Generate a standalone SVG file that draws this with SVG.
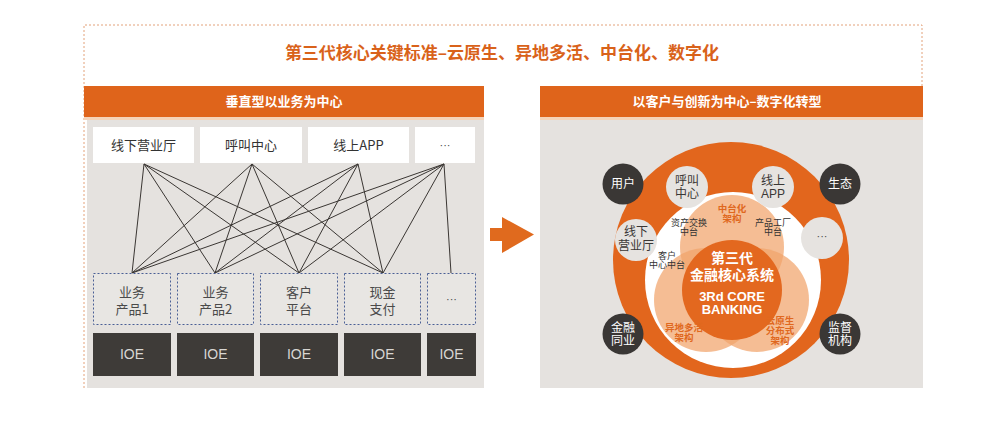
<svg xmlns="http://www.w3.org/2000/svg" width="983" height="429" viewBox="0 0 983 429">
<style>
.cjk{font-family:"Noto Sans CJK SC","Liberation Sans",sans-serif;}
.lat{font-family:"Liberation Sans","Noto Sans CJK SC",sans-serif;}
.hdr{fill:#df641b;}
.hdrtxt{fill:#ffffff;font-size:13px;font-weight:bold;text-anchor:middle;}
.panel{fill:#e5e2df;}
.topbox{fill:#ffffff;}
.toptxt{fill:#333333;font-size:13px;text-anchor:middle;}
.midbox{fill:#e8e6e3;stroke:#4a5f95;stroke-width:1;stroke-dasharray:2 2;}
.midtxt{fill:#4a4a4a;font-size:13px;text-anchor:middle;}
.dots{fill:#4a4a4a;font-size:11px;text-anchor:middle;}
.ioe{fill:#3e3b38;}
.ioetxt{fill:#d8d6d3;font-size:14px;text-anchor:middle;}
.conn line{stroke:#3a3633;stroke-width:1;}
.dark{fill:#3a3735;}
.darktxt{fill:#ffffff;font-size:12px;text-anchor:middle;}
.light{fill:#e6e3e0;}
.lighttxt{fill:#3a3735;font-size:12px;text-anchor:middle;}
.venn{fill:#f1a36b;fill-opacity:0.72;}
.ortxt{fill:#e0681e;font-size:9.5px;font-weight:bold;text-anchor:middle;}
.smtxt{fill:#333333;font-size:9px;text-anchor:middle;}
.core{fill:#ffffff;font-weight:bold;text-anchor:middle;}
</style>
<rect width="983" height="429" fill="#ffffff"/>
<path d="M84,388 V25 H922 V86" fill="none" stroke="#e3a27a" stroke-width="1" stroke-dasharray="2 2"/>
<text class="cjk" x="502" y="59" fill="#d9621a" font-size="17" font-weight="bold" text-anchor="middle">第三代核心关键标准–云原生、异地多活、中台化、数字化</text>

<g id="left-panel">
<rect class="panel" x="87" y="117" width="397" height="271"/>
<rect class="hdr" x="84" y="86" width="400" height="31"/>
<rect x="84" y="117" width="400" height="3" fill="#f5d3b9"/>
<text class="cjk hdrtxt" x="284" y="106">垂直型以业务为中心</text>
</g>

<g id="channel-1"><rect class="topbox" x="93" y="127" width="101" height="36"/><text class="cjk toptxt" x="143.5" y="150">线下营业厅</text></g>
<g id="channel-2"><rect class="topbox" x="200" y="127" width="102" height="36"/><text class="cjk toptxt" x="251" y="150">呼叫中心</text></g>
<g id="channel-3"><rect class="topbox" x="308" y="127" width="101" height="36"/><text class="cjk toptxt" x="358.5" y="150">线上APP</text></g>
<g id="channel-4"><rect class="topbox" x="415" y="127" width="60" height="36"/><text class="lat dots" x="445" y="149">···</text></g>

<g id="connectors" class="conn">
<line x1="144" y1="164" x2="132" y2="273"/><line x1="144" y1="164" x2="215" y2="273"/><line x1="144" y1="164" x2="299" y2="273"/><line x1="144" y1="164" x2="383" y2="273"/>
<line x1="252" y1="164" x2="132" y2="273"/><line x1="252" y1="164" x2="215" y2="273"/><line x1="252" y1="164" x2="299" y2="273"/><line x1="252" y1="164" x2="383" y2="273"/>
<line x1="358" y1="164" x2="132" y2="273"/><line x1="358" y1="164" x2="215" y2="273"/><line x1="358" y1="164" x2="299" y2="273"/><line x1="358" y1="164" x2="383" y2="273"/>
<line x1="444" y1="164" x2="132" y2="273"/><line x1="444" y1="164" x2="215" y2="273"/><line x1="444" y1="164" x2="299" y2="273"/><line x1="444" y1="164" x2="383" y2="273"/>
<line x1="444" y1="164" x2="451" y2="273"/>
</g>

<g id="product-1"><rect class="midbox" x="93.5" y="273.5" width="77" height="51"/><text class="cjk midtxt" x="132" y="297">业务</text><text class="cjk midtxt" x="132" y="314">产品1</text></g>
<g id="product-2"><rect class="midbox" x="177.5" y="273.5" width="76" height="51"/><text class="cjk midtxt" x="215.5" y="297">业务</text><text class="cjk midtxt" x="215.5" y="314">产品2</text></g>
<g id="customer-platform"><rect class="midbox" x="260.5" y="273.5" width="77" height="51"/><text class="cjk midtxt" x="299" y="297">客户</text><text class="cjk midtxt" x="299" y="314">平台</text></g>
<g id="cash-payment"><rect class="midbox" x="344.5" y="273.5" width="76" height="51"/><text class="cjk midtxt" x="382.5" y="297">现金</text><text class="cjk midtxt" x="382.5" y="314">支付</text></g>
<g id="product-more"><rect class="midbox" x="427.5" y="273.5" width="48" height="51"/><text class="lat dots" x="451.5" y="303">···</text></g>

<g id="ioe-1"><rect class="ioe" x="93" y="333" width="78" height="43"/><text class="lat ioetxt" x="132" y="359">IOE</text></g>
<g id="ioe-2"><rect class="ioe" x="177" y="333" width="77" height="43"/><text class="lat ioetxt" x="215.5" y="359">IOE</text></g>
<g id="ioe-3"><rect class="ioe" x="260" y="333" width="78" height="43"/><text class="lat ioetxt" x="299" y="359">IOE</text></g>
<g id="ioe-4"><rect class="ioe" x="344" y="333" width="77" height="43"/><text class="lat ioetxt" x="382.5" y="359">IOE</text></g>
<g id="ioe-5"><rect class="ioe" x="427" y="333" width="49" height="43"/><text class="lat ioetxt" x="451.5" y="359">IOE</text></g>

<g id="arrow"><path d="M490,228 H502 V217 L534,234.5 L502,253 V241 H490 Z" fill="#e06a1e"/></g>

<g id="right-panel">
<rect class="panel" x="540" y="117" width="383" height="271"/>
<rect class="hdr" x="540" y="86" width="383" height="31"/>
<rect x="540" y="117" width="383" height="3" fill="#f5d3b9"/>
<text class="cjk hdrtxt" x="727" y="106">以客户与创新为中心–数字化转型</text>
</g>

<g id="ring">
<circle cx="731" cy="260" r="118" fill="#e2661d"/>
<circle cx="733" cy="280" r="88" fill="#ffffff"/>
</g>
<g id="venn">
<circle class="venn" cx="732" cy="247" r="52"/>
<circle class="venn" cx="706" cy="300" r="52"/>
<circle class="venn" cx="757" cy="300" r="52"/>
<circle cx="732" cy="290" r="50" fill="#e3681f"/>
</g>
<g id="core">
<text class="cjk core" x="732" y="263" font-size="14">第三代</text>
<text class="cjk core" x="732" y="280" font-size="14">金融核心系统</text>
<text class="lat core" x="732" y="301" font-size="13">3Rd CORE</text>
<text class="lat core" x="732" y="314" font-size="13">BANKING</text>
</g>
<g id="middle-platform"><text class="cjk ortxt" x="732" y="212">中台化</text><text class="cjk ortxt" x="732" y="222">架构</text></g>
<g id="multi-active"><text class="cjk ortxt" x="684" y="331">异地多活</text><text class="cjk ortxt" x="684" y="341">架构</text></g>
<g id="cloud-native"><text class="cjk ortxt" x="780" y="324">云原生</text><text class="cjk ortxt" x="780" y="334">分布式</text><text class="cjk ortxt" x="780" y="344">架构</text></g>
<g id="asset-exchange"><text class="cjk smtxt" x="689" y="226">资产交换</text><text class="cjk smtxt" x="689" y="235">中台</text></g>
<g id="product-factory"><text class="cjk smtxt" x="773" y="226">产品工厂</text><text class="cjk smtxt" x="773" y="235">中台</text></g>
<g id="customer-center"><text class="cjk smtxt" x="667" y="259">客户</text><text class="cjk smtxt" x="667" y="268">中心中台</text></g>

<g id="call-center"><circle class="light" cx="687" cy="187" r="21"/><text class="cjk lighttxt" x="687" y="185">呼叫</text><text class="cjk lighttxt" x="687" y="198">中心</text></g>
<g id="online-app"><circle class="light" cx="773" cy="187" r="21"/><text class="cjk lighttxt" x="773" y="185">线上</text><text class="lat lighttxt" x="773" y="198">APP</text></g>
<g id="branch"><circle class="light" cx="636" cy="240" r="21"/><text class="cjk lighttxt" x="636" y="236">线下</text><text class="cjk lighttxt" x="636" y="250">营业厅</text></g>
<g id="more"><circle class="light" cx="822" cy="238" r="21"/><text class="lat dots" x="822" y="240">···</text></g>

<g id="user"><circle class="dark" cx="623" cy="184" r="20.5"/><text class="cjk darktxt" x="623" y="188">用户</text></g>
<g id="ecosystem"><circle class="dark" cx="840" cy="184" r="20.5"/><text class="cjk darktxt" x="840" y="188">生态</text></g>
<g id="peers"><circle class="dark" cx="623" cy="334" r="20.5"/><text class="cjk darktxt" x="623" y="332">金融</text><text class="cjk darktxt" x="623" y="345">同业</text></g>
<g id="regulator"><circle class="dark" cx="840" cy="334" r="20.5"/><text class="cjk darktxt" x="840" y="332">监督</text><text class="cjk darktxt" x="840" y="345">机构</text></g>
</svg>
